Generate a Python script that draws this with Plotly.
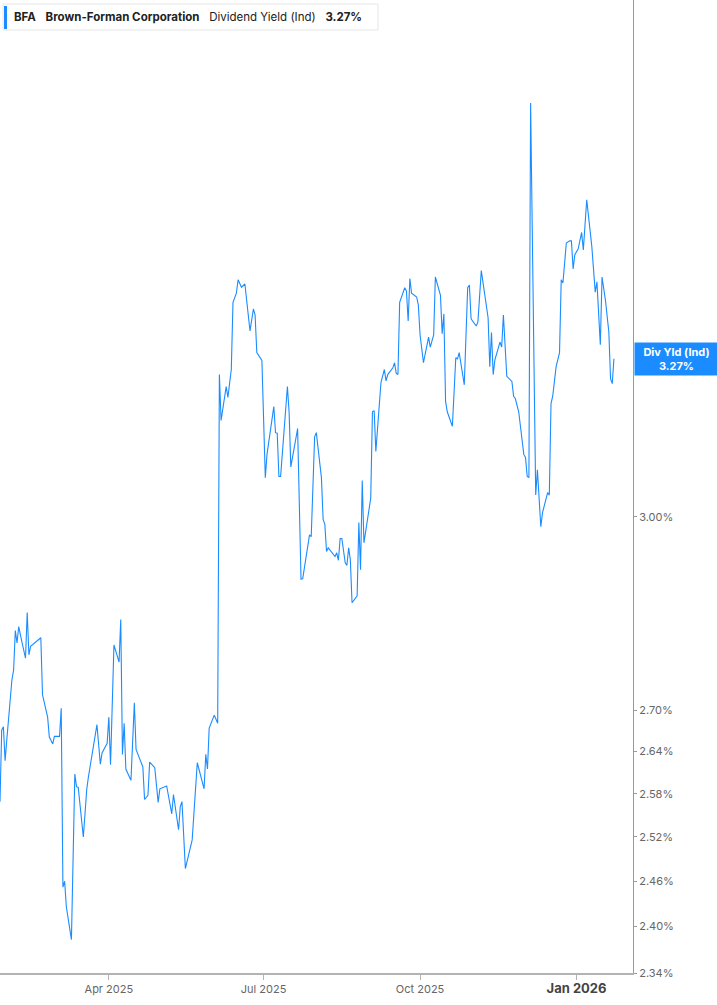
import plotly.graph_objects as go
import math

# BFA dividend yield (indicated)
dates = [
    "2025-01-27", "2025-01-28", "2025-01-29", "2025-01-30", "2025-01-31", "2025-02-02", "2025-02-03", "2025-02-04",
    "2025-02-05", "2025-02-06", "2025-02-07", "2025-02-09", "2025-02-11", "2025-02-12", "2025-02-13", "2025-02-14",
    "2025-02-20", "2025-02-21", "2025-02-24", "2025-02-25", "2025-02-27", "2025-02-28", "2025-03-03", "2025-03-04",
    "2025-03-05", "2025-03-06", "2025-03-07", "2025-03-10", "2025-03-12", "2025-03-13", "2025-03-14", "2025-03-17",
    "2025-03-19", "2025-03-20", "2025-03-25", "2025-03-27", "2025-03-28", "2025-03-31", "2025-04-01", "2025-04-02",
    "2025-04-04", "2025-04-07", "2025-04-08", "2025-04-09", "2025-04-10", "2025-04-11", "2025-04-14", "2025-04-16",
    "2025-04-17", "2025-04-21", "2025-04-22", "2025-04-24", "2025-04-25", "2025-04-28", "2025-04-30", "2025-05-01",
    "2025-05-05", "2025-05-08", "2025-05-09", "2025-05-12", "2025-05-13", "2025-05-14", "2025-05-16", "2025-05-20",
    "2025-05-22", "2025-05-23", "2025-05-27", "2025-05-28", "2025-05-29", "2025-05-30", "2025-06-02", "2025-06-04",
    "2025-06-05", "2025-06-06", "2025-06-09", "2025-06-10", "2025-06-12", "2025-06-13", "2025-06-15", "2025-06-16",
    "2025-06-18", "2025-06-20", "2025-06-23", "2025-06-25", "2025-06-26", "2025-06-27", "2025-06-30", "2025-07-02",
    "2025-07-03", "2025-07-07", "2025-07-08", "2025-07-09", "2025-07-10", "2025-07-11", "2025-07-15", "2025-07-16",
    "2025-07-17", "2025-07-21", "2025-07-23", "2025-07-24", "2025-07-28", "2025-07-29", "2025-07-31", "2025-08-01",
    "2025-08-04", "2025-08-05", "2025-08-06", "2025-08-07", "2025-08-08", "2025-08-11", "2025-08-12", "2025-08-13",
    "2025-08-14", "2025-08-15", "2025-08-16", "2025-08-18", "2025-08-19", "2025-08-20", "2025-08-21", "2025-08-22",
    "2025-08-25", "2025-08-26", "2025-08-27", "2025-08-28", "2025-08-29", "2025-09-02", "2025-09-03", "2025-09-04",
    "2025-09-05", "2025-09-08", "2025-09-10", "2025-09-11", "2025-09-12", "2025-09-15", "2025-09-16", "2025-09-17",
    "2025-09-18", "2025-09-19", "2025-09-22", "2025-09-23", "2025-09-24", "2025-09-25", "2025-09-26", "2025-09-29",
    "2025-09-30", "2025-10-01", "2025-10-03", "2025-10-06", "2025-10-07", "2025-10-09", "2025-10-10", "2025-10-13",
    "2025-10-14", "2025-10-15", "2025-10-16", "2025-10-17", "2025-10-20", "2025-10-22", "2025-10-23", "2025-10-24",
    "2025-10-27", "2025-10-29", "2025-10-30", "2025-10-31", "2025-11-03", "2025-11-04", "2025-11-06", "2025-11-10",
    "2025-11-11", "2025-11-12", "2025-11-13", "2025-11-14", "2025-11-17", "2025-11-18", "2025-11-19", "2025-11-21",
    "2025-11-24", "2025-11-25", "2025-11-26", "2025-11-28", "2025-12-01", "2025-12-02", "2025-12-03", "2025-12-04",
    "2025-12-05", "2025-12-08", "2025-12-09", "2025-12-11", "2025-12-12", "2025-12-15", "2025-12-16", "2025-12-17",
    "2025-12-18", "2025-12-20", "2025-12-22", "2025-12-23", "2025-12-24", "2025-12-26", "2025-12-28", "2025-12-29",
    "2025-12-30", "2025-12-31", "2026-01-02", "2026-01-04", "2026-01-05", "2026-01-07", "2026-01-10", "2026-01-12",
    "2026-01-13", "2026-01-15", "2026-01-16", "2026-01-18", "2026-01-20", "2026-01-21", "2026-01-22", "2026-01-23",
]
div_yield = [
    2.569, 2.671, 2.676, 2.627, 2.657, 2.715, 2.745, 2.760,
    2.820, 2.801, 2.826, 2.801, 2.778, 2.848, 2.783, 2.796,
    2.809, 2.723, 2.690, 2.661, 2.651, 2.662, 2.662, 2.703,
    2.452, 2.460, 2.426, 2.383, 2.608, 2.590, 2.589, 2.520,
    2.586, 2.604, 2.679, 2.622, 2.638, 2.652, 2.690, 2.621,
    2.798, 2.772, 2.837, 2.636, 2.681, 2.615, 2.599, 2.711,
    2.643, 2.618, 2.572, 2.578, 2.625, 2.617, 2.568, 2.587,
    2.591, 2.552, 2.579, 2.530, 2.562, 2.569, 2.477, 2.516,
    2.600, 2.624, 2.587, 2.636, 2.615, 2.674, 2.693, 2.681,
    3.242, 3.162, 3.221, 3.202, 3.251, 3.372, 3.389, 3.414,
    3.400, 3.406, 3.320, 3.360, 3.349, 3.281, 3.267, 3.065,
    3.104, 3.186, 3.141, 3.140, 3.067, 3.067, 3.221, 3.176,
    3.083, 3.148, 2.900, 2.901, 2.971, 2.968, 3.134, 3.141,
    3.065, 2.996, 2.988, 2.944, 2.950, 2.939, 2.936, 2.942,
    2.930, 2.965, 2.965, 2.926, 2.922, 2.950, 2.931, 2.863,
    2.874, 2.991, 2.915, 3.060, 2.958, 3.031, 3.177, 3.179,
    3.109, 3.228, 3.251, 3.231, 3.242, 3.254, 3.263, 3.244,
    3.242, 3.372, 3.399, 3.393, 3.338, 3.416, 3.389, 3.382,
    3.367, 3.313, 3.263, 3.309, 3.291, 3.313, 3.419, 3.385,
    3.315, 3.351, 3.195, 3.177, 3.152, 3.272, 3.270, 3.281,
    3.224, 3.399, 3.404, 3.342, 3.329, 3.336, 3.431, 3.344,
    3.256, 3.317, 3.242, 3.268, 3.300, 3.291, 3.349, 3.239,
    3.230, 3.204, 3.200, 3.177, 3.104, 3.099, 3.067, 3.065,
    3.759, 3.036, 3.078, 2.984, 3.007, 3.040, 3.036, 3.191,
    3.204, 3.256, 3.281, 3.414, 3.408, 3.483, 3.487, 3.487,
    3.434, 3.461, 3.472, 3.503, 3.470, 3.566, 3.476, 3.391,
    3.410, 3.295, 3.419, 3.376, 3.318, 3.235, 3.226, 3.270,
]

y_ticks = [2.34, 2.40, 2.46, 2.52, 2.58, 2.64, 2.70, 3.00]
x_ticks = ["2025-04-01", "2025-07-01", "2025-10-01", "2026-01-01"]
x_ticklabels = ["Apr 2025", "Jul 2025", "Oct 2025",
                "<b><span style='font-size:13px;color:#444'>Jan 2026</span></b>"]

ticker = "BFA"
company = "Brown-Forman Corporation"
metric = "Dividend Yield (Ind)"
last_val = div_yield[-1]

blue = "#1a8cff"

fig = go.Figure()
fig.add_trace(go.Scatter(x=dates, y=div_yield, mode="lines",
                         line=dict(color=blue, width=1.1),
                         hoverinfo="skip", showlegend=False))

fig.update_layout(
    width=717, height=1005,
    margin=dict(l=0, r=84, t=0, b=32),
    paper_bgcolor="white", plot_bgcolor="white",
    font=dict(family="Inter, Roboto, sans-serif", size=11, color="#555"),
    xaxis=dict(
        range=["2025-01-27", "2026-02-03 05:00"],
        tickvals=x_ticks, ticktext=x_ticklabels,
        showgrid=False, zeroline=False,
        showline=True, linecolor="#b3b3b3", linewidth=2,
        ticks="outside", ticklen=5, tickcolor="#b3b3b3",
        tickfont=dict(size=11, color="#666"),
    ),
    yaxis=dict(
        type="log", side="right",
        range=[math.log10(2.34), math.log10(3.976)],
        tickvals=y_ticks, ticktext=["%.2f%%" % v for v in y_ticks],
        showgrid=False, zeroline=False,
        showline=True, linecolor="#999", linewidth=1,
        ticks="outside", ticklen=3, tickcolor="#999",
        tickfont=dict(size=11, color="#666"),
    ),
)

# header box
fig.add_shape(type="rect", xref="paper", yref="paper",
              x0=3 / 633, x1=378 / 633, y0=1 - 30 / 973, y1=1 - 4 / 973,
              line=dict(color="#e6e6e6", width=1), fillcolor="white", layer="above")
fig.add_shape(type="rect", xref="paper", yref="paper",
              x0=4 / 633, x1=7 / 633, y0=1 - 29 / 973, y1=1 - 6 / 973,
              line=dict(width=0), fillcolor=blue, layer="above")
fig.add_annotation(xref="paper", yref="paper", x=12 / 633, y=1 - 17 / 973,
                   xanchor="left", yanchor="middle", showarrow=False,
                   text="<b>%s</b>&nbsp;&nbsp;&nbsp;<b>%s</b>&nbsp;&nbsp;&nbsp;%s&nbsp;&nbsp;&nbsp;<b>%.2f%%</b>"
                        % (ticker, company, metric, last_val),
                   font=dict(size=11.5, color="#222"))

# current value tag on the axis
fig.add_annotation(xref="paper", yref="y", x=1.0015, y=math.log10(last_val),
                   xanchor="left", yanchor="middle", showarrow=False,
                   text="<b>Div Yld (Ind)<br>%.2f%%</b>" % last_val,
                   font=dict(size=11, color="white"),
                   bgcolor=blue, width=79, height=28, align="center",
                   borderpad=2)

fig.write_html("out.html", config={"displayModeBar": False},
               post_script="document.body.style.margin='0';")
